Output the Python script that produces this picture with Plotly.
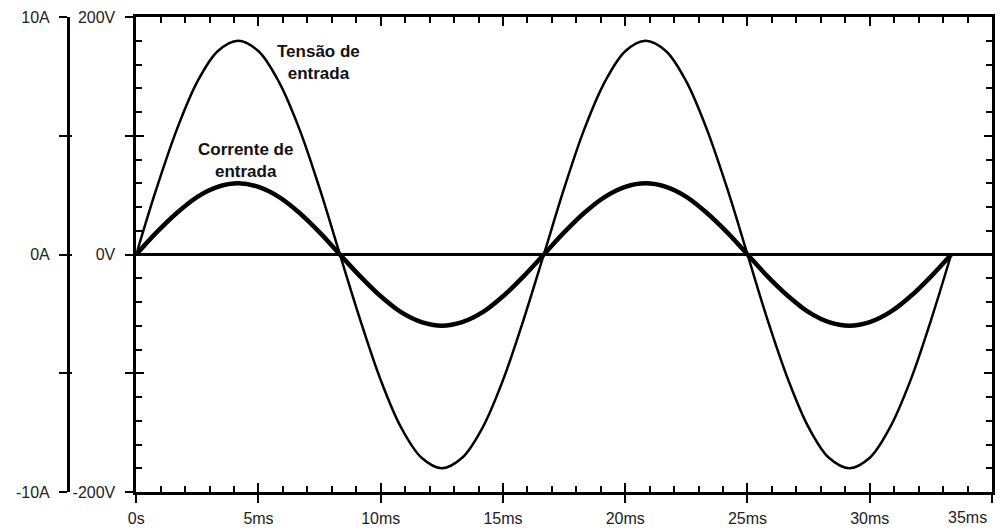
import plotly.graph_objects as go

# Time samples (ms)
t_ms = [0, 0.83, 1.67, 2.5, 3.33, 4.17, 5.0, 5.83, 6.67, 7.5, 8.33,
        9.17, 10.0, 10.83, 11.67, 12.5, 13.33, 14.17, 15.0, 15.83, 16.67,
        17.5, 18.33, 19.17, 20.0, 20.83, 21.67, 22.5, 23.33, 24.17, 25.0,
        25.83, 26.67, 27.5, 28.33, 29.17, 30.0, 30.83, 31.67, 32.5, 33.33]

# Input voltage (V)
tensao_v = [0, 55.6, 105.8, 145.6, 171.2, 180, 171.2, 145.6, 105.8, 55.6, 0,
            -55.6, -105.8, -145.6, -171.2, -180, -171.2, -145.6, -105.8, -55.6, 0,
            55.6, 105.8, 145.6, 171.2, 180, 171.2, 145.6, 105.8, 55.6, 0,
            -55.6, -105.8, -145.6, -171.2, -180, -171.2, -145.6, -105.8, -55.6, 0]

# Input current (A)
corrente_a = [0, 0.93, 1.76, 2.43, 2.85, 3.0, 2.85, 2.43, 1.76, 0.93, 0,
              -0.93, -1.76, -2.43, -2.85, -3.0, -2.85, -2.43, -1.76, -0.93, 0,
              0.93, 1.76, 2.43, 2.85, 3.0, 2.85, 2.43, 1.76, 0.93, 0,
              -0.93, -1.76, -2.43, -2.85, -3.0, -2.85, -2.43, -1.76, -0.93, 0]

x_tickvals = [0, 5, 10, 15, 20, 25, 30, 35]
x_ticktext = ["0s", "5ms", "10ms", "15ms", "20ms", "25ms", "30ms", "35ms"]
v_tickvals = [-200, -100, 0, 100, 200]
v_ticktext = ["-200V", "", "0V", "", "200V"]
a_tickvals = [-10, -5, 0, 5, 10]
a_ticktext = ["-10A", "", "0A", "", "10A"]

FONT = "Liberation Sans, Arial, sans-serif"
W, H = 1000, 532
L, R, T, B = 10, 5, 17, 36
plot_w = W - L - R
x0 = (134 - L) / plot_w
ya_pos = (65 - L) / plot_w

fig = go.Figure()
fig.add_trace(go.Scatter(x=t_ms, y=tensao_v, mode="lines", name="Tensão de entrada",
                         line=dict(color="black", width=2.5, shape="spline"),
                         xaxis="x", yaxis="y"))
fig.add_trace(go.Scatter(x=t_ms, y=corrente_a, mode="lines", name="Corrente de entrada",
                         line=dict(color="black", width=4.5, shape="spline"),
                         xaxis="x", yaxis="y3"))

axis_common = dict(showgrid=False, linecolor="black", linewidth=2.5,
                   tickcolor="black", tickwidth=2)

# last x label is placed as an annotation (shifted left to stay inside the page)
x_ticktext_axis = x_ticktext[:-1] + [""]

fig.update_layout(
    width=W, height=H,
    margin=dict(l=L, r=R, t=T, b=B),
    paper_bgcolor="white", plot_bgcolor="white",
    showlegend=False,
    font=dict(family=FONT, size=16, color="#222"),
    xaxis=dict(domain=[x0, 1], range=[0, 35], showline=True, mirror=True,
               ticks="outside", ticklen=8, tickvals=x_tickvals, ticktext=x_ticktext_axis,
               ticklabelstandoff=2, zeroline=False, **axis_common),
    xaxis2=dict(domain=[x0, 1], range=[0, 35], overlaying="x", anchor="y", side="bottom",
                showline=True, mirror="ticks", ticks="inside", ticklen=9,
                tickvals=x_tickvals, showticklabels=False, zeroline=False,
                minor=dict(dtick=1, ticks="inside", ticklen=6, tickwidth=2, tickcolor="black"),
                **axis_common),
    yaxis=dict(range=[-200, 200], anchor="x", side="left", showline=True, mirror=True,
               ticks="outside", ticklen=8, tickvals=v_tickvals, ticktext=v_ticktext,
               ticklabelstandoff=7,
               zeroline=True, zerolinecolor="black", zerolinewidth=2.5,
               **axis_common),
    yaxis2=dict(range=[-200, 200], overlaying="y", anchor="x", side="left",
                showline=True, mirror="ticks", ticks="inside", ticklen=8,
                tickvals=v_tickvals, showticklabels=False, zeroline=False,
                minor=dict(dtick=20, ticks="inside", ticklen=6, tickwidth=2, tickcolor="black"),
                **axis_common),
    yaxis3=dict(range=[-10, 10], overlaying="y", anchor="free", position=ya_pos, side="left",
                showline=True, ticks="outside", ticklen=8,
                tickvals=a_tickvals, ticktext=a_ticktext, ticklabelstandoff=6,
                zeroline=False, **axis_common),
    yaxis4=dict(range=[-10, 10], overlaying="y", anchor="free", position=ya_pos, side="left",
                showline=False, ticks="inside", ticklen=3,
                tickvals=a_tickvals, showticklabels=False, zeroline=False,
                **axis_common),
    annotations=[
        dict(x=7.45, y=162, xref="x", yref="y", text="<b>Tensão de<br>entrada</b>",
             showarrow=False, font=dict(family=FONT, size=17, color="#111"), align="center"),
        dict(x=4.45, y=79, xref="x", yref="y", text="<b>Corrente de<br>entrada</b>",
             showarrow=False, font=dict(family=FONT, size=17, color="#111"), align="center"),
        dict(x=x_tickvals[-1], y=0, xref="x", yref="paper", text=x_ticktext[-1],
             showarrow=False, xanchor="right", yanchor="top", xshift=-3, yshift=-15,
             font=dict(family=FONT, size=16, color="#222")),
    ],
)

# ensure overlay axes are drawn (dummy invisible traces)
fig.add_trace(go.Scatter(x=[None], y=[None], xaxis="x2", yaxis="y2", showlegend=False, hoverinfo="skip"))
fig.add_trace(go.Scatter(x=[None], y=[None], xaxis="x", yaxis="y4", showlegend=False, hoverinfo="skip"))

fig.write_html("out.html")
